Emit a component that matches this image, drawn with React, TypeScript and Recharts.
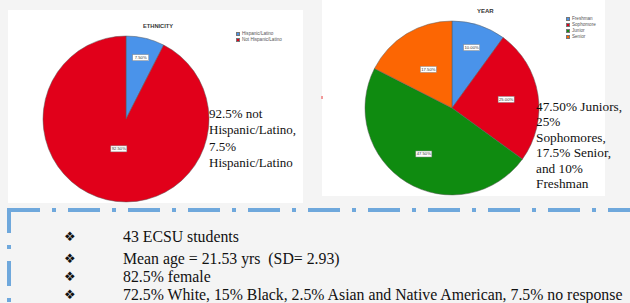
import React from "react";
import { PieChart, Pie, Cell, Legend } from "recharts";

// ---- data ----
const ethnicityNames = ["Hispanic/Latino", "Not Hispanic/Latino"];
const ethnicityValues = [7.5, 92.5];
const yearNames = ["Freshman", "Sophomore", "Junior", "Senior"];
const yearValues = [10, 25, 47.5, 17.5];

const ethnicityNote = ["92.5% not", "Hispanic/Latino,", "7.5%", "Hispanic/Latino"];
const yearNote = ["47.50% Juniors,", "25%", "Sophomores,", "17.5% Senior,", "and 10%", "Freshman"];
const bulletLines = [
  "43 ECSU students",
  "Mean age = 21.53 yrs\u00a0 (SD= 2.93)",
  "82.5% female",
  "72.5% White, 15% Black, 2.5% Asian and Native American, 7.5% no response",
];

// ---- styles ----
const ethnicityColors = ["#4a93ea", "#e1001a"];
const yearColors = ["#4a93ea", "#e1001a", "#0f8b10", "#fc6603"];
const ethnicityLabelRadius = [0.76, 0.37];
const yearLabelRadius = [0.73, 0.63, 0.62, 0.52];
const bulletTops = [237, 259, 277, 295];

const ethnicityData = ethnicityNames.map((n, i) => ({ name: n, value: ethnicityValues[i] }));
const yearData = yearNames.map((n, i) => ({ name: n, value: yearValues[i] }));

const RAD = Math.PI / 180;

const makeLabel = (factors: number[]) => (props: any) => {
  const { cx, cy, midAngle, outerRadius, index, value } = props;
  const r = outerRadius * factors[index];
  const x = cx + r * Math.cos(-midAngle * RAD);
  const y = cy + r * Math.sin(-midAngle * RAD);
  const txt = `${Number(value).toFixed(2)}%`;
  return (
    <g key={`lbl-${index}`}>
      <rect x={x - 8} y={y - 3} width={16} height={6} fill="#ffffff" stroke="#8a8a8a" strokeWidth={0.5} />
      <text
        x={x}
        y={y + 1.4}
        textAnchor="middle"
        fontSize={4.2}
        fontFamily='"Liberation Sans", Arial, sans-serif'
        fill="#333"
      >
        {txt}
      </text>
    </g>
  );
};

const makeLegend = (order: string[]) => (props: any) => {
  const payload = [...(props.payload || [])].sort(
    (a: any, b: any) => order.indexOf(a.value) - order.indexOf(b.value)
  );
  return (
    <div style={{ fontFamily: '"Liberation Sans", Arial, sans-serif' }}>
      {payload.map((p: any, i: number) => (
        <div key={i} style={{ display: "flex", alignItems: "center", height: 6, whiteSpace: "nowrap" }}>
          <span
            style={{
              display: "inline-block",
              width: 4,
              height: 4,
              background: p.color,
              boxSizing: "border-box",
              border: "0.5px solid #777",
            }}
          />
          <span style={{ fontSize: 4.6, marginLeft: 2, color: "#555", lineHeight: "6px" }}>{p.value}</span>
        </div>
      ))}
    </div>
  );
};

const serif = '"Liberation Serif", "Times New Roman", serif';

export default function App() {
  return (
    <div
      style={{
        position: "fixed",
        left: 0,
        top: 0,
        width: 630,
        height: 303,
        background: "#f4f4f4",
        overflow: "hidden",
        fontFamily: serif,
        color: "#111",
      }}
    >
      {/* Left panel */}
      <div style={{ position: "absolute", left: 8, top: 10, width: 295, height: 193, background: "#ffffff" }}>
        <PieChart width={295} height={193}>
          <Pie
            data={ethnicityData}
            dataKey="value"
            nameKey="name"
            cx={113}
            cy={104}
            outerRadius={83}
            startAngle={90}
            endAngle={-270}
            stroke="#5a5a5a"
            strokeWidth={0.5}
            labelLine={false}
            label={makeLabel(ethnicityLabelRadius)}
            isAnimationActive={false}
          >
            {ethnicityData.map((d, i) => (
              <Cell key={d.name} fill={ethnicityColors[i]} />
            ))}
          </Pie>
          <Legend
            content={makeLegend(ethnicityNames)}
            layout="vertical"
            itemSorter={null as any}
            wrapperStyle={{ position: "absolute", left: 228, top: 21, width: "auto" }}
          />
        </PieChart>
        <div
          style={{
            position: "absolute",
            left: 135,
            top: 13,
            fontFamily: '"Liberation Sans", Arial, sans-serif',
            fontWeight: "bold",
            fontSize: 5.7,
            color: "#333",
            lineHeight: "6px",
          }}
        >
          ETHNICITY
        </div>
      </div>

      {/* Right panel */}
      <div style={{ position: "absolute", left: 322, top: 0, width: 283, height: 196, background: "#ffffff" }}>
        <PieChart width={283} height={196}>
          <Pie
            data={yearData}
            dataKey="value"
            nameKey="name"
            cx={125}
            cy={103}
            outerRadius={87}
            startAngle={90}
            endAngle={-270}
            stroke="#5a5a5a"
            strokeWidth={0.5}
            labelLine={false}
            label={makeLabel(yearLabelRadius)}
            isAnimationActive={false}
          >
            {yearData.map((d, i) => (
              <Cell key={d.name} fill={yearColors[i]} />
            ))}
          </Pie>
          <Legend
            content={makeLegend(yearNames)}
            layout="vertical"
            itemSorter={null as any}
            wrapperStyle={{ position: "absolute", left: 244, top: 16, width: "auto" }}
          />
        </PieChart>
        <div
          style={{
            position: "absolute",
            left: 155,
            top: 8,
            fontFamily: '"Liberation Sans", Arial, sans-serif',
            fontWeight: "bold",
            fontSize: 6,
            color: "#333",
            lineHeight: "6px",
          }}
        >
          YEAR
        </div>
      </div>

      {/* tiny red mark */}
      <div style={{ position: "absolute", left: 321, top: 96, width: 2, height: 3, background: "#f29a9a" }} />

      {/* Notes beside the pies */}
      <div style={{ position: "absolute", left: 209, top: 106, fontSize: 13, lineHeight: "16.3px", whiteSpace: "nowrap" }}>
        {ethnicityNote.map((l, i) => (
          <div key={i}>{l}</div>
        ))}
      </div>
      <div style={{ position: "absolute", left: 536, top: 99, fontSize: 13.3, lineHeight: "15.4px", whiteSpace: "nowrap" }}>
        {yearNote.map((l, i) => (
          <div key={i}>{l}</div>
        ))}
      </div>

      {/* Dash-dot frame */}
      <svg style={{ position: "absolute", left: 0, top: 0 }} width={630} height={303}>
        <line x1={8} y1={210} x2={630} y2={210} stroke="#6fa8dc" strokeWidth={4} strokeDasharray="32 12 4 12" />
        <line x1={9} y1={208} x2={9} y2={303} stroke="#6fa8dc" strokeWidth={4} strokeDasharray="25 12 4 12" />
      </svg>

      {/* Bullets */}
      {bulletLines.map((l, i) => (
        <React.Fragment key={i}>
          <div
            style={{
              position: "absolute",
              left: 64,
              top: bulletTops[i] - 9,
              lineHeight: "18px",
              fontSize: 13,
              fontFamily: '"DejaVu Sans", sans-serif',
            }}
          >
            {"\u2756"}
          </div>
          <div
            style={{
              position: "absolute",
              left: 123,
              top: bulletTops[i] - 9,
              lineHeight: "18px",
              fontSize: 15.8,
              whiteSpace: "nowrap",
            }}
          >
            {l}
          </div>
        </React.Fragment>
      ))}
    </div>
  );
}
